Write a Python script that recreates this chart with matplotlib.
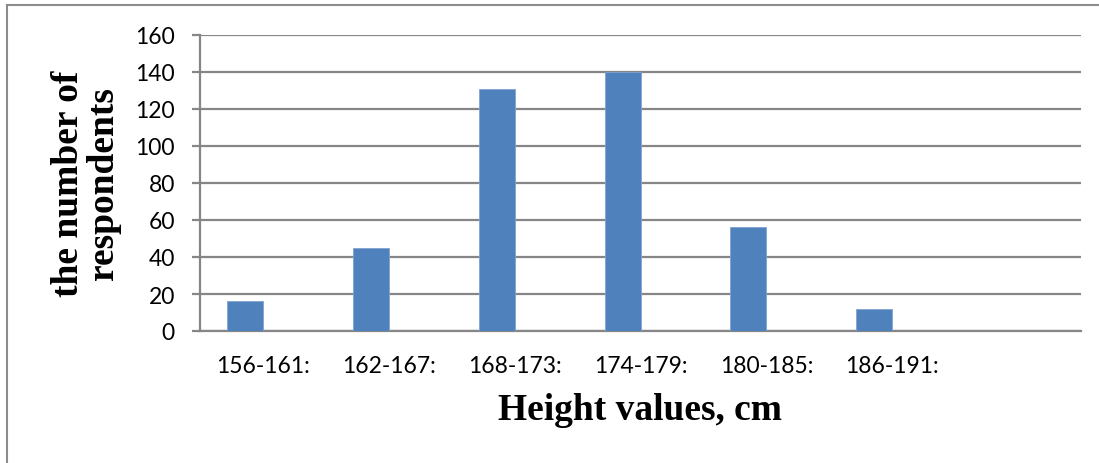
import matplotlib.pyplot as plt
import numpy as np

# data
categories = ['156-161:', '162-167:', '168-173:', '174-179:', '180-185:', '186-191:', '']
respondents = [16, 45, 131, 140, 56, 12, 0]
y_ticks = [0, 20, 40, 60, 80, 100, 120, 140, 160]

bar_color = '#4F81BD'
grid_color = '#868686'

DPI = 100
fig = plt.figure(figsize=(1099 / DPI, 464 / DPI), dpi=DPI)
ax = fig.add_axes([200 / 1099, 1 - 332 / 464, 881 / 1099, 296 / 464])

x = np.arange(len(categories))
bar_w = 0.286
ax.bar(x[:len(respondents)] - bar_w / 2, respondents, width=bar_w,
       color=bar_color, edgecolor='#7FA3D0', linewidth=0.6, zorder=3)

ax.set_xlim(-0.5, len(categories) - 0.5)
ax.set_ylim(0, 160)
ax.set_yticks(y_ticks)
ax.yaxis.grid(True, color=grid_color, linewidth=1.6, zorder=0)
ax.set_axisbelow(True)

ax.set_xticks(x)
ax.set_xticklabels(categories, family='Lato', fontsize=16.5)
ax.tick_params(axis='x', length=0, pad=17)
ax.tick_params(axis='y', length=6, width=1.6, color=grid_color, pad=12,
               labelsize=16.5)
for lbl in ax.get_yticklabels():
    lbl.set_family('Lato')

for side in ('top', 'right'):
    ax.spines[side].set_visible(False)
ax.spines['left'].set_color(grid_color)
ax.spines['left'].set_linewidth(1.6)
ax.spines['bottom'].set_color(grid_color)
ax.spines['bottom'].set_linewidth(1.6)

ax.set_xlabel('Height values, cm', family='Liberation Serif', weight='bold',
              fontsize=27, labelpad=12)
ax.set_ylabel('the number of\nrespondents', family='Liberation Serif',
              weight='bold', fontsize=27, labelpad=10, linespacing=1.0)

# outer chart frame (only left and top edges show in the crop)
fig.add_artist(plt.Line2D([7 / 1099, 7 / 1099], [0, 1 - 6 / 464],
                          transform=fig.transFigure, color='#8C8C8C', linewidth=1.5))
fig.add_artist(plt.Line2D([7 / 1099, 1], [1 - 6 / 464, 1 - 6 / 464],
                          transform=fig.transFigure, color='#8C8C8C', linewidth=1.5))

fig.savefig('out.png', dpi=DPI)
